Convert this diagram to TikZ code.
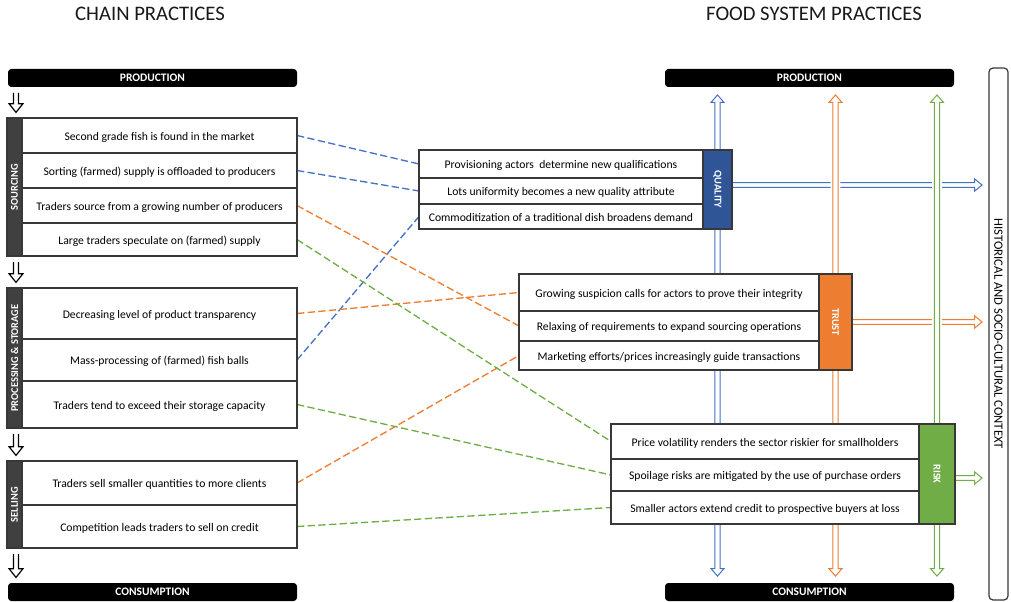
\documentclass[tikz,border=0pt]{standalone}
\usepackage{fontspec}
\setmainfont{Carlito}
\usetikzlibrary{calc}
\definecolor{qblue}{HTML}{4472C4}
\definecolor{qdark}{HTML}{2F5597}
\definecolor{torange}{HTML}{ED7D31}
\definecolor{rgreen}{HTML}{70AD47}
\definecolor{edge}{HTML}{383838}
\definecolor{stripgray}{HTML}{404040}
\pgfdeclarelayer{bg}
\pgfsetlayers{bg,main}
\tikzset{
  % outline of a narrow block arrow between two points:
  % #1 start gap, #2 end gap, #3 shaft half width, #4 head half width, #5 head length
  hollow/.style n args={5}{to path={
    let \p1=(\tikztostart), \p2=(\tikztotarget),
        \p3=($(\p1)!#1!(\p2)$), \p4=($(\p2)!#2!(\p1)$), \p5=($(\p4)!#5!(\p3)$) in
    ($(\p3)!#3!90:(\p4)$) -- ($(\p5)!#3!-90:(\p3)$) -- ($(\p5)!#4!-90:(\p3)$) -- (\p4)
    -- ($(\p5)!#4!90:(\p3)$) -- ($(\p5)!#3!90:(\p3)$) -- ($(\p3)!#3!-90:(\p4)$)}},
  flow/.style={draw=#1, fill=white, line width=0.75pt,
    preaction={draw=white, line width=3.2pt}},
  flowup/.style={flow=#1, hollow={0pt}{6pt}{2pt}{4.8pt}{5.5pt}},
  flowdown/.style={flow=#1, hollow={0pt}{5.2pt}{2pt}{4.8pt}{5.5pt}},
  flowright/.style={flow=#1, hollow={0pt}{5.2pt}{1.8pt}{4.5pt}{5.5pt}},
  stage/.style={draw=black, fill=white, line width=0.9pt,
    hollow={4.5pt}{4.2pt}{1.9pt}{5.2pt}{6.5pt}},
  cell/.style 2 args={draw=edge, line width=1.1pt, fill=white,
    minimum width=#1*0.75pt, minimum height=#2*0.75pt,
    text height=7.6pt, text depth=0.6pt,
    font=\fontsize{8.75}{10.5}\selectfont, text=black},
  strip/.style n args={3}{draw=edge, line width=1.1pt, fill=#3,
    minimum width=#1*0.75pt, minimum height=#2*0.75pt,
    text=white, font=\bfseries\fontsize{7.8}{9}\selectfont},
  bar/.style={fill=black, rounded corners=2.5pt, minimum width=289*0.75pt,
    minimum height=18*0.75pt, text=white, font=\bfseries\fontsize{8.6}{10}\selectfont},
  heading/.style={font=\fontsize{15.5}{18}\selectfont, text=black!90},
  link/.style={draw=#1, line width=1pt, dash pattern=on 5.5pt off 2.5pt},
}
\begin{document}
\begin{tikzpicture}[x=0.75pt, y=-0.75pt, every node/.style={inner sep=0pt, outer sep=0pt}]
\useasboundingbox (0,0) rectangle (1011,602);

% headings and end bars
\node[heading] (tL) at (150,14) {CHAIN PRACTICES};
\node[heading] (tR) at (814,14) {FOOD SYSTEM PRACTICES};
\node[bar] (prodL) at (152.5,78) {PRODUCTION};
\node[bar] (consL) at (152.5,592) {CONSUMPTION};
\node[bar] (prodR) at (809.5,78) {PRODUCTION};
\node[bar] (consR) at (809.5,592) {CONSUMPTION};

% chain practices: sourcing
\node[cell={275}{35}] (s1) at (159.5,135.5) {Second grade fish is found in the market};
\node[cell={275}{35}] (s2) at (159.5,170.5) {Sorting (farmed) supply is offloaded to producers};
\node[cell={275}{35}] (s3) at (159.5,205.5) {Traders source from a growing number of producers};
\node[cell={275}{33}] (s4) at (159.5,239.5) {Large traders speculate on (farmed) supply};
\node[strip={15}{138}{stripgray}] (sS) at (14.5,187) {\rotatebox{90}{SOURCING}};

% processing & storage
\node[cell={275}{51}] (p1) at (159.5,313.5) {Decreasing level of product transparency};
\node[cell={275}{42}] (p2) at (159.5,360) {Mass-processing of (farmed) fish balls};
\node[cell={275}{47}] (p3) at (159.5,404.5) {Traders tend to exceed their storage capacity};
\node[strip={15}{140}{stripgray}] (sP) at (14.5,358) {\rotatebox{90}{PROCESSING \& STORAGE}};

% selling
\node[cell={275}{44}] (e1) at (159.5,483) {Traders sell smaller quantities to more clients};
\node[cell={275}{43}] (e2) at (159.5,526.5) {Competition leads traders to sell on credit};
\node[strip={15}{87}{stripgray}] (sE) at (14.5,504.5) {\rotatebox{90}{SELLING}};

% food system practices: quality
\node[cell={284}{28}] (q1) at (561,164) {Provisioning actors\ \ determine new qualifications};
\node[cell={284}{26}] (q2) at (561,191) {Lots uniformity becomes a new quality attribute};
\node[cell={284}{25}] (q3) at (561,216.5) {Commoditization of a traditional dish broadens demand};
\node[strip={29}{79}{qdark}] (qS) at (717.5,189.5) {\rotatebox{-90}{QUALITY}};

% trust
\node[cell={300}{37}] (t1) at (669,292.5) {Growing suspicion calls for actors to prove their integrity};
\node[cell={300}{30}] (t2) at (669,326) {Relaxing of requirements to expand sourcing operations};
\node[cell={300}{29}] (t3) at (669,355.5) {Marketing efforts/prices increasingly guide transactions};
\node[strip={33}{96}{torange}] (tS) at (835.5,322) {\rotatebox{-90}{TRUST}};

% risk
\node[cell={308}{35}] (r1) at (765,441.5) {Price volatility renders the sector riskier for smallholders};
\node[cell={308}{32}] (r2) at (765,475) {Spoilage risks are mitigated by the use of purchase orders};
\node[cell={308}{33}] (r3) at (765,507.5) {Smaller actors extend credit to prospective buyers at loss};
\node[strip={36}{100}{rgreen}] (rS) at (937,474) {\rotatebox{-90}{RISK}};

% context frame
\node[draw=edge, line width=0.9pt, rounded corners=3pt, minimum width=19*0.75pt,
  minimum height=532*0.75pt, font=\fontsize{9.5}{11}\selectfont, text=black]
  (ctx) at (998.5,334) {\rotatebox{-90}{HISTORICAL AND SOCIO-CULTURAL CONTEXT}};

\begin{pgfonlayer}{bg}
  % outward flows towards the context
  \coordinate (qo) at ($(qS.east)+(0,-4.5)$);
  \coordinate (to) at (tS.east);
  \coordinate (ro) at ($(rS.east)+(0,4)$);
  \draw[flowright=qblue] (qo) to (qo -| ctx.west);
  \draw[flowright=torange] (to) to (to -| ctx.west);
  \draw[flowright=rgreen] (ro) to (ro -| ctx.west);

  % flows up to production and down to consumption
  \draw[flowup=qblue] (qS.north) to (qS.north |- prodR.south);
  \draw[flowdown=qblue] (qS.south) to (qS.south |- consR.north);
  \draw[flowup=torange] (tS.north) to (tS.north |- prodR.south);
  \draw[flowdown=torange] (tS.south) to (tS.south |- consR.north);
  \draw[flowup=rgreen] (rS.north) to (rS.north |- prodR.south);
  \draw[flowdown=rgreen] (rS.south) to (rS.south |- consR.north);

  % links between chain practices and food system practices
  \draw[link=qblue] (s1.east) -- (q1.west);
  \draw[link=qblue] (s2.east) -- (q2.west);
  \draw[link=qblue] (p2.east) -- (q3.west);
  \draw[link=torange] (s3.east) -- (t2.west);
  \draw[link=torange] (p1.east) -- (t1.west);
  \draw[link=torange] (e1.east) -- (t3.west);
  \draw[link=rgreen] (s4.east) -- (r1.west);
  \draw[link=rgreen] (p3.east) -- (r2.west);
  \draw[link=rgreen] (e2.east) -- (r3.west);
\end{pgfonlayer}

% stage arrows along the chain
\coordinate (ax) at (16,0);
\draw[stage] (ax |- prodL.south) to (ax |- s1.north);
\draw[stage] (ax |- s4.south) to (ax |- p1.north);
\draw[stage] (ax |- p3.south) to (ax |- e1.north);
\draw[stage] (ax |- e2.south) to (ax |- consL.north);
\end{tikzpicture}
\end{document}
